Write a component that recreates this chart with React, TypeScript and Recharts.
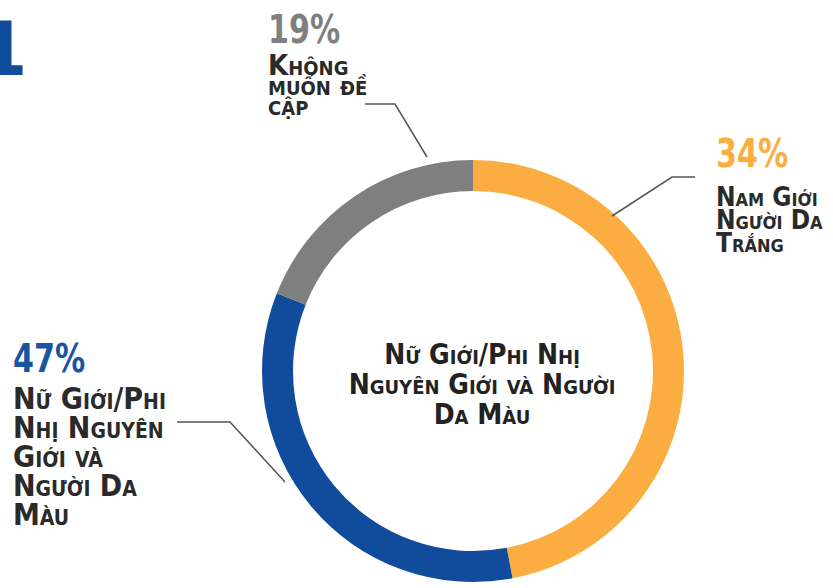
import { PieChart, Pie, Cell } from 'recharts'

// share of the ring each arc covers (orange, blue, gray)
const groups = ['Nam Giới Người Da Trắng', 'Nữ Giới/Phi Nhị Nguyên Giới và Người Da Màu', 'Không muốn đề cập']
const arcShare = [47, 34, 19]
// percentages as printed next to each arc in the reference
const printedPct = ['34%', '47%', '19%']
const labelLines = [
  ['Nam Giới', 'Người Da', 'Trắng'],
  ['Nữ Giới/Phi', 'Nhị Nguyên', 'Giới và', 'Người Da', 'Màu'],
  ['Không', 'muốn đề', 'cập'],
]
const centerLines = ['Nữ Giới/Phi Nhị', 'Nguyên Giới và Người', 'Da Màu']

const COLORS = ['#FBAD41', '#114C9C', '#7F7F7F']
const PCT_COLORS = ['#FBAD41', '#1A55A3', '#7F7F7F']
const FONT = '"DejaVu Sans Condensed", "DejaVu Sans", sans-serif'

const chartData = groups.map((name, i) => ({ name, value: arcShare[i] }))

// where each callout sits
const LAYOUT = [
  { x: 716, pctY: 167, y: 206, lh: 23, size: 26, line: '695,177 672,177 612,216' },
  { x: 13, pctY: 372, y: 409, lh: 29, size: 30, line: '177,422 230,422 285,482' },
  { x: 268, pctY: 43, y: 75, lh: 20, size: 29, line: '365,104 395,104 427,157' },
]

function renderLabel(props: any) {
  const i = props.index
  const l = LAYOUT[i]
  if (!l) return null
  return (
    <g key={`lbl-${i}`}>
      <polyline points={l.line} fill="none" stroke="#555" strokeWidth={1.5} />
      <text
        transform={`translate(${l.x},${l.pctY}) scale(0.86,1)`}
        fill={PCT_COLORS[i]}
        fontFamily={FONT}
        fontWeight="bold"
        fontSize={39}
      >
        {printedPct[i]}
      </text>
      {labelLines[i].map((t, j) => (
        <text
          key={j}
          x={l.x}
          y={l.y + j * l.lh}
          fill="#2a2a2a"
          fontFamily={FONT}
          fontWeight="bold"
          fontSize={l.size}
          style={{ fontVariant: 'small-caps' }}
        >
          {t}
        </text>
      ))}
    </g>
  )
}

export default function App() {
  return (
    <div style={{ position: 'absolute', left: 0, top: 0, width: 833, height: 588, background: '#fff', overflow: 'hidden' }}>
      <PieChart width={833} height={588} margin={{ top: 0, right: 0, bottom: 0, left: 0 }}>
        <Pie
          data={chartData}
          dataKey="value"
          nameKey="name"
          cx={473}
          cy={371}
          innerRadius={180}
          outerRadius={211}
          startAngle={90}
          endAngle={-270}
          stroke="none"
          label={renderLabel}
          labelLine={false}
          isAnimationActive={false}
        >
          {chartData.map((_, i) => (
            <Cell key={i} fill={COLORS[i]} />
          ))}
        </Pie>
      </PieChart>
      <svg width={833} height={588} style={{ position: 'absolute', left: 0, top: 0, pointerEvents: 'none' }}>
        <text x={27} y={75} textAnchor="end" fill="#114C9C" fontFamily={FONT} fontWeight="bold" fontSize={74}>
          1
        </text>
        {centerLines.map((t, j) => (
          <text
            key={j}
            x={482}
            y={364 + j * 30}
            textAnchor="middle"
            fill="#222"
            fontFamily={FONT}
            fontWeight="bold"
            fontSize={28}
            style={{ fontVariant: 'small-caps' }}
          >
            {t}
          </text>
        ))}
      </svg>
    </div>
  )
}
